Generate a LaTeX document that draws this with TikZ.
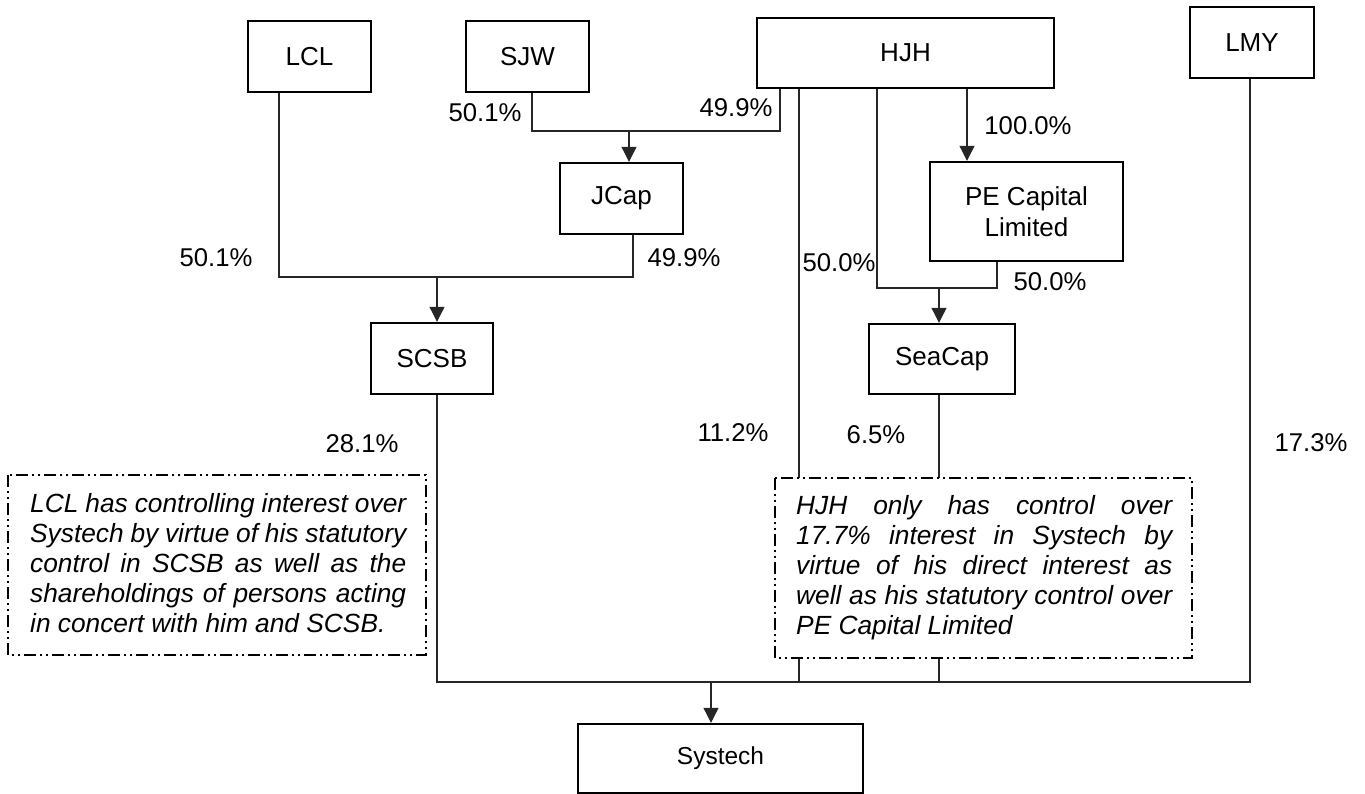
\documentclass[tikz,border=0pt]{standalone}
\usepackage{fontspec}
\setmainfont{Liberation Sans}
\usetikzlibrary{arrows.meta}
\begin{document}
\begin{tikzpicture}[x=1pt,y=-1pt,
  box/.style={draw=black,line width=2.4pt,fill=white,inner sep=0pt,align=center,font=\fontsize{26}{31}\selectfont},
  conn/.style={draw=black!85,line width=1.1pt},
  arr/.style={conn,-{Triangle[width=15pt,length=15pt]}},
  pct/.style={font=\fontsize{25.7}{30}\selectfont,inner sep=0pt},
  notebox/.style={draw=black,fill=white,line width=1.4pt,dash pattern=on 12pt off 4pt on 2pt off 4pt on 2pt off 4pt},
  notetext/.style={anchor=north west,inner sep=0pt,align=left,font=\fontsize{26.3}{30}\selectfont\itshape}
]
\newcommand\jline[1]{\makebox[376pt][s]{#1}}
\useasboundingbox (0,0) rectangle (1365,794);
% boxes
\node[box,minimum width=123pt,minimum height=71pt] (LCL) at (309.5,56.5) {LCL};
\node[box,minimum width=123pt,minimum height=71pt] (SJW) at (527.5,56.5) {SJW};
\node[box,minimum width=297pt,minimum height=70pt] (HJH) at (905.5,53) {HJH};
\node[box,minimum width=124pt,minimum height=71pt] (LMY) at (1252,42.5) {LMY};
\node[box,minimum width=123pt,minimum height=71pt] (JCap) at (621.5,198.5) {JCap};
\node[box,minimum width=193pt,minimum height=99pt] (PE) at (1026.5,211.5) {PE Capital\\Limited};
\node[box,minimum width=122pt,minimum height=71pt] (SCSB) at (432,358.5) {SCSB};
\node[box,minimum width=146pt,minimum height=70pt] (SeaCap) at (942,359) {SeaCap};
\node[box,minimum width=285pt,minimum height=69pt,font=\fontsize{24.5}{29}\selectfont] (Systech) at (720.5,758.5) {Systech};
% junction coordinates
\coordinate (jA) at (437,277);
\coordinate (jB) at (629,131);
\coordinate (jC) at (939,288);
\coordinate (jD) at (711,682);
% LCL + JCap -> SCSB
\draw[conn] (279,0 |- LCL.south) -- (279,277) -- (633,277) -- (633,0 |- JCap.south);
\draw[arr] (jA) -- (437,0 |- SCSB.north);
% SJW + HJH -> JCap
\draw[conn] (532,0 |- SJW.south) -- (532,131) -- (780,131) -- (780,0 |- HJH.south);
\draw[arr] (jB) -- (629,0 |- JCap.north);
% HJH -> PE
\draw[arr] (967,0 |- HJH.south) -- (967,0 |- PE.north);
% HJH + PE -> SeaCap
\draw[conn] (877,0 |- HJH.south) -- (877,288) -- (997,288) -- (997,0 |- PE.south);
\draw[arr] (jC) -- (939,0 |- SeaCap.north);
% to Systech
\draw[conn] (437,0 |- SCSB.south) -- (437,682) -- (1250,682) -- (1250,0 |- LMY.south);
\draw[conn] (799,0 |- HJH.south) -- (799,682);
\draw[conn] (939,0 |- SeaCap.south) -- (939,682);
\draw[arr] (jD) -- (711,0 |- Systech.north);
% percentages
\node[pct] (p1) at (216,258) {50.1\%};
\node[pct] (p2) at (485,113) {50.1\%};
\node[pct] (p3) at (736,108) {49.9\%};
\node[pct] (p4) at (684,258) {49.9\%};
\node[pct] (p5) at (839,263) {50.0\%};
\node[pct] (p6) at (1028,126) {100.0\%};
\node[pct] (p7) at (1050,282) {50.0\%};
\node[pct] (p8) at (362,444) {28.1\%};
\node[pct] (p9) at (733,433) {11.2\%};
\node[pct] (p10) at (876,435) {6.5\%};
\node[pct] (p11) at (1311,443) {17.3\%};
% notes
\draw[notebox] (8,475) rectangle (426,655);
\node[notetext] (n1) at (30,493) {\jline{LCL has controlling interest over}\\ \jline{Systech by virtue of his statutory}\\ \jline{control in SCSB as well as the}\\ \jline{shareholdings of persons acting}\\ in concert with him and SCSB.};
\draw[notebox] (775,478) rectangle (1192,658);
\node[notetext] (n2) at (796,495) {\jline{HJH only has control over}\\ \jline{17.7\% interest in Systech by}\\ \jline{virtue of his direct interest as}\\ \jline{well as his statutory control over}\\ PE Capital Limited};
\end{tikzpicture}
\end{document}
